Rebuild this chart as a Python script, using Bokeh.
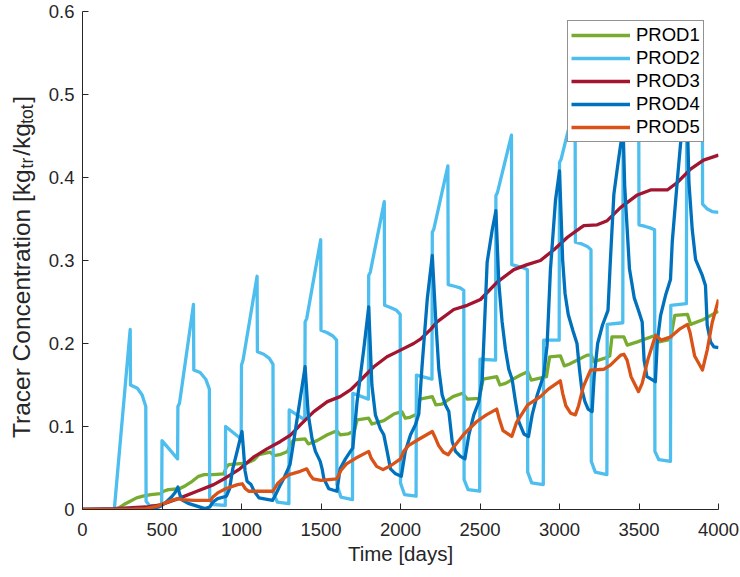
import math
from bokeh.plotting import figure
from bokeh.models import Range1d, FixedTicker, Legend, LegendItem, Label
from bokeh.embed import file_html
from bokeh.resources import INLINE

# ---------------- data ----------------
series_names = ["PROD1", "PROD2", "PROD3", "PROD4", "PROD5"]
series_colors = ["#77AC30", "#4DBEEE", "#A2142F", "#0072BD", "#D95319"]

prod1 = [(0, 0), (200, 0), (230, 0.002), (260, 0.006), (300, 0.010), (340, 0.014), (380, 0.016),
         (430, 0.018), (490, 0.019), (510, 0.022), (540, 0.024), (610, 0.025), (650, 0.029),
         (690, 0.034), (730, 0.040), (765, 0.042), (820, 0.042), (888, 0.043), (905, 0.051),
         (920, 0.054), (972, 0.055), (1035, 0.056), (1080, 0.060), (1110, 0.066), (1180, 0.069),
         (1205, 0.065), (1240, 0.066), (1290, 0.070), (1310, 0.080), (1330, 0.084), (1400, 0.085),
         (1420, 0.079), (1475, 0.083), (1540, 0.090), (1600, 0.095), (1620, 0.090), (1670, 0.091),
         (1710, 0.095), (1727, 0.108), (1800, 0.110), (1820, 0.103), (1895, 0.107), (1958, 0.115),
         (2008, 0.118), (2030, 0.110), (2060, 0.111), (2105, 0.115), (2122, 0.133), (2200, 0.136),
         (2222, 0.126), (2260, 0.127), (2330, 0.136), (2390, 0.140), (2420, 0.133), (2495, 0.134),
         (2520, 0.157), (2605, 0.160), (2625, 0.150), (2660, 0.152), (2755, 0.162), (2800, 0.166),
         (2822, 0.156), (2918, 0.160), (2938, 0.184), (3006, 0.185), (3030, 0.173), (3060, 0.175),
         (3174, 0.186), (3200, 0.186), (3216, 0.178), (3280, 0.182), (3316, 0.185), (3330, 0.208),
         (3405, 0.208), (3426, 0.198), (3490, 0.202), (3604, 0.210), (3625, 0.202), (3698, 0.205),
         (3725, 0.234), (3805, 0.235), (3825, 0.223), (3906, 0.229), (4000, 0.239)]

prod2 = [(0, 0), (200, 0), (300, 0.217), (302, 0.150), (345, 0.146), (375, 0.138), (398, 0.124), (400, 0.010),
         (420, 0.005), (498, 0.004), (500, 0.083), (598, 0.061), (600, 0.124), (610, 0.128), (698, 0.247),
         (700, 0.168), (740, 0.165), (775, 0.157), (798, 0.145), (800, 0.012),
         (820, 0.006), (898, 0.005), (900, 0.100), (998, 0.085), (1000, 0.174), (1010, 0.180), (1098, 0.281),
         (1100, 0.190), (1140, 0.187), (1175, 0.182), (1198, 0.175), (1200, 0.020),
         (1225, 0.009), (1298, 0.007), (1300, 0.120), (1398, 0.108), (1400, 0.226), (1410, 0.230), (1498, 0.325),
         (1500, 0.216), (1540, 0.213), (1575, 0.209), (1598, 0.204), (1600, 0.030),
         (1625, 0.015), (1698, 0.012), (1700, 0.140), (1798, 0.133), (1800, 0.282), (1810, 0.286), (1898, 0.371),
         (1900, 0.246), (1940, 0.243), (1975, 0.240), (1998, 0.235), (2000, 0.032),
         (2025, 0.018), (2098, 0.016), (2100, 0.162), (2198, 0.157), (2200, 0.334), (2210, 0.338), (2298, 0.414),
         (2300, 0.271), (2340, 0.269), (2375, 0.267), (2398, 0.264), (2400, 0.036),
         (2425, 0.024), (2498, 0.022), (2500, 0.181), (2598, 0.180), (2600, 0.378), (2610, 0.382), (2698, 0.451),
         (2700, 0.295), (2740, 0.293), (2775, 0.291), (2798, 0.289), (2800, 0.045),
         (2825, 0.032), (2898, 0.030), (2900, 0.204), (2998, 0.204), (3000, 0.418), (3010, 0.422), (3098, 0.490),
         (3100, 0.322), (3140, 0.320), (3175, 0.317), (3198, 0.313), (3200, 0.058),
         (3225, 0.045), (3298, 0.042), (3300, 0.223), (3398, 0.225), (3400, 0.450), (3410, 0.454), (3498, 0.515),
         (3500, 0.343), (3540, 0.341), (3575, 0.339), (3598, 0.337), (3600, 0.070),
         (3625, 0.060), (3698, 0.058), (3700, 0.246), (3798, 0.248), (3800, 0.470), (3810, 0.474), (3898, 0.540),
         (3900, 0.368), (3930, 0.362), (3960, 0.359), (4000, 0.358)]

prod3 = [(0, 0), (200, 0.001), (400, 0.003), (500, 0.006), (615, 0.014), (720, 0.022), (825, 0.030),
         (900, 0.038), (990, 0.049), (1075, 0.063), (1160, 0.073), (1245, 0.082), (1310, 0.090),
         (1370, 0.102), (1455, 0.118), (1540, 0.130), (1620, 0.136), (1685, 0.144), (1750, 0.156),
         (1832, 0.172), (1915, 0.184), (2000, 0.192), (2083, 0.200), (2130, 0.206), (2190, 0.217),
         (2230, 0.226), (2335, 0.241), (2420, 0.246), (2503, 0.253), (2608, 0.274), (2713, 0.289),
         (2797, 0.295), (2880, 0.300), (2965, 0.313), (3050, 0.328), (3130, 0.339), (3153, 0.342),
         (3237, 0.343), (3300, 0.348), (3385, 0.364), (3490, 0.379), (3573, 0.385), (3678, 0.385),
         (3741, 0.394), (3824, 0.410), (3906, 0.421), (4000, 0.427)]

prod4 = [(0, 0), (400, 0), (440, 0.001), (480, 0.003), (520, 0.008), (560, 0.015), (585, 0.021), (600, 0.027),
         (612, 0.018), (630, 0.011), (670, 0.007), (720, 0.004), (770, 0.001), (800, 0.003), (820, 0.009),
         (850, 0.013), (905, 0.016), (925, 0.025), (945, 0.049), (975, 0.072), (1003, 0.094), (1012, 0.073),
         (1022, 0.047), (1035, 0.034), (1060, 0.030), (1080, 0.022), (1110, 0.014), (1195, 0.011),
         (1215, 0.018), (1245, 0.030), (1265, 0.037), (1305, 0.054), (1328, 0.082), (1400, 0.172),
         (1420, 0.114), (1444, 0.085), (1465, 0.070), (1495, 0.058), (1507, 0.049), (1518, 0.037),
         (1549, 0.025), (1600, 0.022), (1620, 0.049), (1654, 0.061), (1685, 0.070), (1700, 0.074),
         (1727, 0.130), (1769, 0.193), (1800, 0.244), (1820, 0.150), (1842, 0.114), (1874, 0.097),
         (1895, 0.090), (1916, 0.070), (1937, 0.049), (1969, 0.043), (2005, 0.040), (2030, 0.070),
         (2063, 0.090), (2094, 0.102), (2115, 0.115), (2136, 0.174), (2168, 0.253), (2200, 0.306),
         (2220, 0.234), (2241, 0.169), (2262, 0.138), (2283, 0.126), (2304, 0.118), (2325, 0.082),
         (2346, 0.070), (2377, 0.064), (2405, 0.061), (2430, 0.090), (2461, 0.114), (2493, 0.130),
         (2514, 0.157), (2545, 0.298), (2577, 0.337), (2600, 0.360), (2618, 0.274), (2639, 0.226),
         (2660, 0.193), (2681, 0.169), (2702, 0.157), (2723, 0.130), (2744, 0.106), (2776, 0.091),
         (2805, 0.088), (2828, 0.114), (2860, 0.138), (2901, 0.162), (2922, 0.198), (2943, 0.289),
         (2975, 0.373), (3000, 0.408), (3020, 0.300), (3035, 0.260), (3055, 0.235), (3085, 0.215),
         (3110, 0.200), (3125, 0.170), (3140, 0.145), (3160, 0.130), (3180, 0.121), (3205, 0.118),
         (3218, 0.160), (3240, 0.200), (3270, 0.222), (3305, 0.240), (3320, 0.300), (3342, 0.380),
         (3370, 0.420), (3400, 0.460), (3410, 0.390), (3425, 0.340), (3440, 0.290), (3470, 0.255),
         (3500, 0.238), (3520, 0.226), (3532, 0.180), (3550, 0.160), (3603, 0.154), (3615, 0.202),
         (3636, 0.234), (3667, 0.258), (3698, 0.277), (3709, 0.322), (3740, 0.394), (3761, 0.440),
         (3800, 0.500), (3814, 0.394), (3835, 0.337), (3856, 0.301), (3898, 0.282), (3918, 0.270),
         (3929, 0.222), (3950, 0.202), (3971, 0.196), (4000, 0.195)]

prod5 = [(0, 0), (300, 0), (400, 0.001), (470, 0.004), (520, 0.008), (560, 0.011), (600, 0.013), (625, 0.012),
         (700, 0.011), (805, 0.011), (820, 0.015), (850, 0.020), (900, 0.025), (975, 0.030), (1005, 0.031),
         (1025, 0.025), (1045, 0.022), (1198, 0.022), (1226, 0.031), (1260, 0.037), (1300, 0.042),
         (1370, 0.046), (1410, 0.049), (1430, 0.042), (1450, 0.037), (1500, 0.035), (1600, 0.037),
         (1625, 0.047), (1660, 0.055), (1720, 0.062), (1800, 0.070), (1815, 0.062), (1850, 0.052),
         (1890, 0.048), (1940, 0.053), (2000, 0.061), (2020, 0.070), (2050, 0.077), (2110, 0.084),
         (2200, 0.094), (2215, 0.088), (2240, 0.077), (2270, 0.069), (2300, 0.066), (2330, 0.074),
         (2400, 0.091), (2480, 0.106), (2540, 0.114), (2605, 0.121), (2620, 0.110), (2645, 0.095),
         (2700, 0.088), (2730, 0.105), (2800, 0.126), (2880, 0.136), (2930, 0.145), (3005, 0.155),
         (3020, 0.140), (3040, 0.125), (3070, 0.116), (3100, 0.114), (3120, 0.125), (3150, 0.148),
         (3195, 0.168), (3280, 0.169), (3320, 0.174), (3385, 0.186), (3405, 0.187), (3425, 0.180),
         (3450, 0.160), (3497, 0.142), (3520, 0.152), (3555, 0.180), (3604, 0.210), (3640, 0.204),
         (3700, 0.208), (3760, 0.218), (3805, 0.223), (3820, 0.214), (3850, 0.185), (3899, 0.168),
         (3930, 0.193), (3960, 0.225), (4000, 0.253)]

series_data = [prod1, prod2, prod3, prod4, prod5]

x_ticks = [0, 500, 1000, 1500, 2000, 2500, 3000, 3500, 4000]
y_ticks = [0, 0.1, 0.2, 0.3, 0.4, 0.5, 0.6]
y_tick_labels = ["0", "0.1", "0.2", "0.3", "0.4", "0.5", "0.6"]
x_label = "Time [days]"
y_label_main = ["Tracer Concentration [kg", "/kg", "]"]
y_label_subs = ["tr", "tot"]

# ---------------- figure ----------------
FONT = "Liberation Sans"
AX = "#262626"
TOP, BOTTOM, LEFT, RIGHT = 11, 68, 82, 22
W, H = 740, 577
LW = 3.3

p = figure(width=W, height=H, x_range=Range1d(0, 4000), y_range=Range1d(0, 0.6),
           output_backend="svg", toolbar_location=None,
           min_border_left=LEFT, min_border_right=RIGHT, min_border_top=TOP, min_border_bottom=BOTTOM)
p.outline_line_color = None
p.grid.visible = False
p.background_fill_color = "white"
p.border_fill_color = "white"

renderers = []
for name, color, data in zip(series_names, series_colors, series_data):
    xs = [d[0] for d in data]
    ys = [d[1] for d in data]
    r = p.line(xs, ys, line_color=color, line_width=LW, line_join="round")
    renderers.append(r)

p.xaxis.ticker = FixedTicker(ticks=x_ticks)
p.yaxis.ticker = FixedTicker(ticks=y_ticks)
p.yaxis.major_label_overrides = {t: l for t, l in zip(y_ticks, y_tick_labels)}

for ax in (p.xaxis, p.yaxis):
    ax.axis_line_color = AX
    ax.axis_line_width = 1
    ax.major_tick_line_color = AX
    ax.major_tick_in = 6
    ax.major_tick_out = 0
    ax.minor_tick_line_color = None
    ax.major_label_text_font = FONT
    ax.major_label_text_font_size = "18.5px"
    ax.major_label_text_color = AX

p.xaxis.major_label_standoff = 13
p.yaxis.major_label_standoff = 8
p.xaxis.axis_label = x_label
p.xaxis.axis_label_text_font = FONT
p.xaxis.axis_label_text_font_size = "20.5px"
p.xaxis.axis_label_text_font_style = "normal"
p.xaxis.axis_label_text_color = AX
p.xaxis.axis_label_standoff = 3

# ---- y label with subscripts: main text (with non-breaking gaps) + subscript text ----
ARIAL = {'T': 611, 'r': 333, 'a': 556, 'c': 500, 'e': 556, ' ': 278, 'C': 722, 'o': 556, 'n': 556,
         't': 278, 'i': 222, '[': 278, 'k': 500, 'g': 556, '/': 278, ']': 278, '\u00a0': 278}

def text_w(s, size):
    return sum(ARIAL.get(c, 556) for c in s) * size / 1000.0

NB = "\u00a0"
F_MAIN, F_SUB = 24.5, 17.5
gap1 = NB * 2
gap2 = NB * 3
main_text = y_label_main[0] + gap1 + y_label_main[1] + gap2 + y_label_main[2]
total = text_w(main_text, F_MAIN)
label_center = 266.0
y_start = label_center + total / 2.0        # canvas y (from top) where the text begins
sub1_start = y_start - text_w(y_label_main[0], F_MAIN)
sub2_start = sub1_start - text_w(gap1 + y_label_main[1], F_MAIN)
n_sp = round((sub1_start - sub2_start - text_w(y_label_subs[0], F_SUB)) / text_w(NB, F_SUB))
sub_text = y_label_subs[0] + NB * n_sp + y_label_subs[1]

main_lbl = Label(x=21, y=y_start, x_units="canvas", y_units="canvas", text=main_text,
                 angle=math.pi / 2, text_align="left", text_baseline="alphabetic",
                 text_font=FONT, text_font_size=f"{F_MAIN}px", text_color=AX)
sub_lbl = Label(x=26.5, y=sub1_start, x_units="canvas", y_units="canvas", text=sub_text,
                angle=math.pi / 2, text_align="left", text_baseline="alphabetic",
                text_font=FONT, text_font_size=f"{F_SUB}px", text_color=AX)
p.add_layout(main_lbl, "left")
p.add_layout(sub_lbl, "right")

legend = Legend(items=[LegendItem(label=n, renderers=[r]) for n, r in zip(series_names, renderers)],
                location=(485, (H - BOTTOM) - 142), orientation="vertical")
legend.border_line_color = AX
legend.border_line_width = 1
legend.background_fill_color = "white"
legend.background_fill_alpha = 1.0
legend.label_text_font = FONT
legend.label_text_font_size = "18.5px"
legend.label_text_color = "black"
legend.glyph_width = 59
legend.glyph_height = 22
legend.label_height = 22
legend.label_standoff = 6
legend.spacing = 1
legend.padding = 3
legend.margin = 0
p.add_layout(legend)

open("out.html", "w").write(file_html(p, INLINE))
